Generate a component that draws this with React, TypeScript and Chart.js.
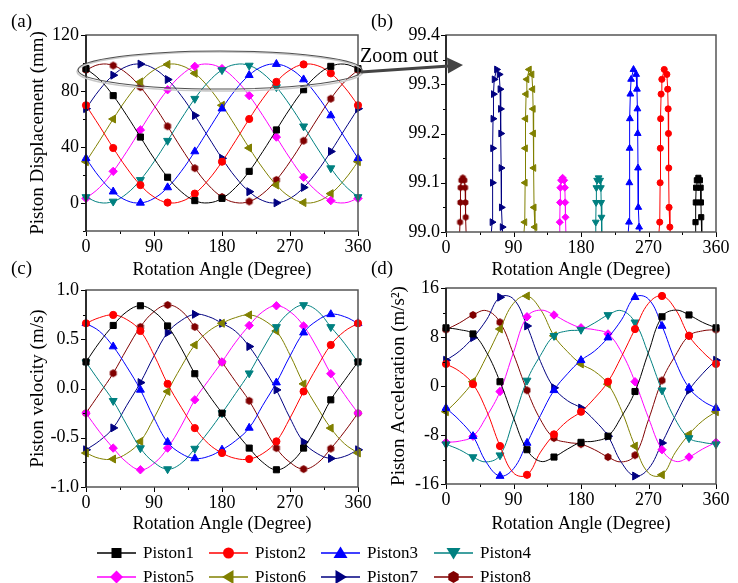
import React, { useEffect, useRef } from 'react';
import { Chart, registerables } from 'chart.js';

Chart.register(...registerables);

const FONT = '"Liberation Serif", "Times New Roman", Times, serif';

// ---------- data ----------
const ANGLES = [0, 18, 36, 54, 72, 90, 108, 126, 144, 162, 180, 198, 216, 234, 252, 270, 288, 306, 324, 342, 360];

const PISTON_NAMES = ['Piston1', 'Piston2', 'Piston3', 'Piston4', 'Piston5', 'Piston6', 'Piston7', 'Piston8'];

// (a) piston displacement (mm)
const DISP_P1 = [96.0, 88.2, 76.7, 62.5, 47.1, 31.9, 18.4, 8.1, 1.7, 0.1, 3.3, 11.1, 22.6, 36.8, 52.2, 67.4, 80.9, 91.3, 97.6, 99.2, 96.0];
const DISP_P2 = [69.8, 54.8, 39.3, 24.9, 12.8, 4.3, 0.3, 1.1, 6.7, 16.5, 29.5, 44.5, 60.0, 74.5, 86.5, 95.0, 99.0, 98.2, 92.6, 82.8, 69.8];
const DISP_P3 = [31.9, 18.4, 8.1, 1.7, 0.1, 3.3, 11.1, 22.6, 36.8, 52.2, 67.4, 80.9, 91.3, 97.6, 99.2, 96.0, 88.2, 76.7, 62.5, 47.1, 31.9];
const DISP_P4 = [4.3, 0.3, 1.1, 6.7, 16.5, 29.5, 44.5, 60.0, 74.5, 86.5, 95.0, 99.0, 98.2, 92.6, 82.8, 69.8, 54.8, 39.3, 24.9, 12.8, 4.3];
const DISP_P5 = [3.3, 11.1, 22.6, 36.8, 52.2, 67.4, 80.9, 91.3, 97.6, 99.2, 96.0, 88.2, 76.7, 62.5, 47.1, 31.9, 18.4, 8.1, 1.7, 0.1, 3.3];
const DISP_P6 = [29.5, 44.5, 60.0, 74.5, 86.5, 95.0, 99.0, 98.2, 92.6, 82.8, 69.8, 54.8, 39.3, 24.9, 12.8, 4.3, 0.3, 1.1, 6.7, 16.5, 29.5];
const DISP_P7 = [67.4, 80.9, 91.3, 97.6, 99.2, 96.0, 88.2, 76.7, 62.5, 47.1, 31.9, 18.4, 8.1, 1.7, 0.1, 3.3, 11.1, 22.6, 36.8, 52.2, 67.4];
const DISP_P8 = [95.0, 99.0, 98.2, 92.6, 82.8, 69.8, 54.8, 39.3, 24.9, 12.8, 4.3, 0.3, 1.1, 6.7, 16.5, 29.5, 44.5, 60.0, 74.5, 86.5, 95.0];

// (b) zoomed peaks of displacement: angle arrays per piston, shared peak profiles
const ZOOM_X_P1 = [332, 332.7, 333.1, 333.5, 334.5, 336.5, 338.5, 339.5, 339.9, 340.3, 341];
const ZOOM_X_P2 = [283.5, 285, 285.5, 285.8, 286.2, 286.8, 287.8, 291, 294.5, 295.6, 296.2, 296.6, 297, 297.4, 298.5, 299.5];
const ZOOM_X_P3 = [242.5, 244, 244.5, 244.8, 245.2, 245.8, 246.8, 250, 253.5, 254.6, 255.2, 255.6, 256, 256.4, 257.5, 258.5];
const ZOOM_X_P4 = [199, 199.7, 200.1, 200.5, 201.5, 203.5, 205.5, 206.5, 206.9, 207.3, 208];
const ZOOM_X_P5 = [151, 151.7, 152.1, 152.5, 153.5, 155.5, 157.5, 158.5, 158.9, 159.3, 160];
const ZOOM_X_P6 = [103.5, 105, 105.5, 105.8, 106.2, 106.8, 107.8, 111, 114.5, 115.6, 116.2, 116.6, 117, 117.4, 118.5, 119.5];
const ZOOM_X_P7 = [60, 61.5, 62, 62.3, 62.7, 63.3, 64.3, 67.5, 71, 72.1, 72.7, 73.1, 73.5, 73.9, 75, 76];
const ZOOM_X_P8 = [18, 18.7, 19.1, 19.5, 20.5, 22.5, 24.5, 25.5, 25.9, 26.3, 27];
const ZOOM_Y_HIGH = [98.99, 99.02, 99.10, 99.17, 99.23, 99.28, 99.31, 99.33, 99.32, 99.29, 99.25, 99.20, 99.13, 99.05, 99.01, 98.99];
const ZOOM_Y_LOW = [98.99, 99.02, 99.06, 99.09, 99.105, 99.11, 99.105, 99.09, 99.06, 99.03, 98.99];

// (c) piston velocity (m/s)
const VEL_P1 = [0.27, 0.47, 0.64, 0.78, 0.84, 0.78, 0.635, 0.41, 0.15, -0.06, -0.25, -0.44, -0.605, -0.75, -0.825, -0.76, -0.605, -0.38, -0.115, 0.08, 0.27];
const VEL_P2 = [0.662, 0.72, 0.747, 0.70, 0.584, 0.34, 0.047, -0.19, -0.402, -0.56, -0.655, -0.71, -0.716, -0.66, -0.537, -0.30, -0.03, 0.22, 0.442, 0.58, 0.662];
const VEL_P3 = [0.662, 0.58, 0.426, 0.22, -0.014, -0.30, -0.544, -0.66, -0.71, -0.69, -0.622, -0.53, -0.40, -0.17, 0.06, 0.33, 0.567, 0.69, 0.753, 0.73, 0.662];
const VEL_P4 = [0.267, 0.07, -0.125, -0.37, -0.605, -0.75, -0.818, -0.76, -0.61, -0.44, -0.25, -0.05, 0.155, 0.40, 0.625, 0.78, 0.848, 0.79, 0.625, 0.46, 0.267];
const VEL_P5 = [-0.25, -0.44, -0.605, -0.75, -0.825, -0.76, -0.605, -0.38, -0.115, 0.08, 0.27, 0.47, 0.64, 0.78, 0.84, 0.78, 0.635, 0.41, 0.15, -0.06, -0.25];
const VEL_P6 = [-0.655, -0.71, -0.716, -0.66, -0.537, -0.30, -0.03, 0.22, 0.442, 0.58, 0.662, 0.72, 0.747, 0.70, 0.584, 0.34, 0.047, -0.19, -0.402, -0.56, -0.655];
const VEL_P7 = [-0.622, -0.53, -0.40, -0.17, 0.06, 0.33, 0.567, 0.69, 0.753, 0.73, 0.662, 0.58, 0.426, 0.22, -0.014, -0.30, -0.544, -0.66, -0.71, -0.69, -0.622];
const VEL_P8 = [-0.25, -0.05, 0.155, 0.40, 0.625, 0.78, 0.848, 0.79, 0.625, 0.46, 0.267, 0.07, -0.125, -0.37, -0.605, -0.75, -0.818, -0.76, -0.61, -0.44, -0.25];

// (d) piston acceleration (m/s^2)
const ACC_P1 = [9.5, 9.2, 8.5, 5.5, 0.7, -5.2, -10.4, -12.3, -11.6, -10.3, -9.2, -9.0, -8.2, -5.0, -0.9, 5.5, 11.3, 12.4, 11.6, 10.4, 9.5];
const ACC_P2 = [3.6, 2.4, 0.3, -4.0, -9.8, -14.2, -14.5, -10.8, -7.9, -5.7, -4.2, -2.0, 0.7, 4.8, 9.3, 13.5, 14.7, 12.5, 8.2, 5.6, 3.6];
const ACC_P3 = [-3.6, -5.6, -8.2, -12.5, -14.7, -13.5, -9.3, -4.8, -0.7, 2.0, 4.2, 5.7, 7.9, 10.8, 14.5, 14.2, 9.8, 4.0, -0.3, -2.4, -3.6];
const ACC_P4 = [-9.5, -10.4, -11.6, -12.4, -11.3, -5.5, 0.9, 5.0, 8.2, 9.0, 9.2, 10.3, 11.6, 12.3, 10.4, 5.2, -0.7, -5.5, -8.5, -9.2, -9.5];
const ACC_P5 = [-9.2, -9.0, -8.2, -5.0, -0.9, 5.5, 11.3, 12.4, 11.6, 10.4, 9.5, 9.2, 8.5, 5.5, 0.7, -5.2, -10.4, -12.3, -11.6, -10.3, -9.2];
const ACC_P6 = [-4.2, -2.0, 0.7, 4.8, 9.3, 13.5, 14.7, 12.5, 8.2, 5.6, 3.6, 2.4, 0.3, -4.0, -9.8, -14.2, -14.5, -10.8, -7.9, -5.7, -4.2];
const ACC_P7 = [4.2, 5.7, 7.9, 10.8, 14.5, 14.2, 9.8, 4.0, -0.3, -2.4, -3.6, -5.6, -8.2, -12.5, -14.7, -13.5, -9.3, -4.8, -0.7, 2.0, 4.2];
const ACC_P8 = [9.2, 10.3, 11.6, 12.3, 10.4, 5.2, -0.7, -5.5, -8.5, -9.2, -9.5, -10.4, -11.6, -12.4, -11.3, -5.5, 0.9, 5.0, 8.2, 9.0, 9.2];

const DISP = [DISP_P1, DISP_P2, DISP_P3, DISP_P4, DISP_P5, DISP_P6, DISP_P7, DISP_P8];
const VEL = [VEL_P1, VEL_P2, VEL_P3, VEL_P4, VEL_P5, VEL_P6, VEL_P7, VEL_P8];
const ACC = [ACC_P1, ACC_P2, ACC_P3, ACC_P4, ACC_P5, ACC_P6, ACC_P7, ACC_P8];
const ZOOM_X = [ZOOM_X_P1, ZOOM_X_P2, ZOOM_X_P3, ZOOM_X_P4, ZOOM_X_P5, ZOOM_X_P6, ZOOM_X_P7, ZOOM_X_P8];
const ZOOM_Y = [ZOOM_Y_LOW, ZOOM_Y_HIGH, ZOOM_Y_HIGH, ZOOM_Y_LOW, ZOOM_Y_LOW, ZOOM_Y_HIGH, ZOOM_Y_HIGH, ZOOM_Y_LOW];

// ---------- styles ----------
const COLORS = ['#000000', '#FF0000', '#0000FF', '#008080', '#FF00FF', '#808000', '#000080', '#800000'];
const MARKERS: { style: string; rot: number; r: number }[] = [
  { style: 'rect', rot: 0, r: 4.3 },
  { style: 'circle', rot: 0, r: 3.6 },
  { style: 'triangle', rot: 0, r: 4.6 },
  { style: 'triangle', rot: 180, r: 4.6 },
  { style: 'rectRot', rot: 0, r: 4.2 },
  { style: 'triangle', rot: -90, r: 4.6 },
  { style: 'triangle', rot: 90, r: 4.6 },
  { style: 'hex', rot: 0, r: 4 },
];

function makeHex(color: string, r: number) {
  const s = Math.ceil(r * 2 + 2);
  const c = document.createElement('canvas');
  c.width = s;
  c.height = s;
  const g = c.getContext('2d')!;
  g.fillStyle = color;
  g.beginPath();
  for (let k = 0; k < 6; k++) {
    const ang = (Math.PI / 3) * k + Math.PI / 6;
    const px = s / 2 + r * Math.cos(ang);
    const py = s / 2 + r * Math.sin(ang);
    if (k === 0) g.moveTo(px, py);
    else g.lineTo(px, py);
  }
  g.closePath();
  g.fill();
  return c;
}

const isMaj = (v: number, m: number) => Math.abs(v / m - Math.round(v / m)) < 1e-6;

const decoPlugin = {
  id: 'deco',
  afterDatasetsDraw(chart: any, _args: any, opts: any) {
    const { ctx, chartArea: a } = chart;
    const xs = chart.scales.x;
    const ys = chart.scales.y;
    ctx.save();
    ctx.strokeStyle = '#000';
    ctx.lineWidth = 1;
    ctx.beginPath();
    xs.ticks.forEach((t: any) => {
      const px = Math.round(xs.getPixelForValue(t.value)) + 0.5;
      const len = isMaj(t.value, opts.xMajor) ? 5 : 3;
      ctx.moveTo(px, a.bottom);
      ctx.lineTo(px, a.bottom + len);
    });
    ys.ticks.forEach((t: any) => {
      const py = Math.round(ys.getPixelForValue(t.value)) + 0.5;
      const len = isMaj(t.value, opts.yMajor) ? 5 : 3;
      ctx.moveTo(a.left, py);
      ctx.lineTo(a.left - len, py);
    });
    ctx.stroke();
    ctx.strokeStyle = '#555';
    ctx.lineWidth = 1.5;
    ctx.strokeRect(a.left, a.top, a.right - a.left, a.bottom - a.top);
    ctx.strokeStyle = '#000';
    ctx.lineWidth = 1.3;
    ctx.beginPath();
    ctx.moveTo(a.left, a.top);
    ctx.lineTo(a.left, a.bottom);
    ctx.stroke();
    ctx.restore();
  },
};

function buildConfig(o: any) {
  return {
    type: 'line',
    data: { datasets: o.datasets },
    options: {
      animation: false,
      responsive: false,
      events: [],
      layout: { padding: { left: o.padL, top: o.padT, right: o.padR, bottom: o.padB } },
      plugins: {
        legend: { display: false },
        tooltip: { enabled: false },
        deco: { xMajor: 90, yMajor: o.yMajor },
      },
      elements: {
        line: { borderWidth: 1, tension: o.tension },
        point: { borderWidth: 1, hoverRadius: 0, hitRadius: 0 },
      },
      scales: {
        x: {
          type: 'linear',
          min: 0,
          max: 360,
          border: { display: false },
          grid: { display: false, drawTicks: false },
          ticks: {
            stepSize: 45,
            autoSkip: false,
            maxRotation: 0,
            padding: 5,
            color: '#000',
            font: { family: FONT, size: 18 },
            callback: (v: number) => (isMaj(v, 90) ? String(v) : ''),
          },
          title: {
            display: true,
            text: 'Rotation Angle (Degree)',
            color: '#000',
            font: { family: FONT, size: 18 },
            padding: 0,
          },
          afterFit: (s: any) => {
            s.height = o.xHeight;
          },
        },
        y: {
          type: 'linear',
          min: o.yMin,
          max: o.yMax,
          border: { display: false },
          grid: { display: false, drawTicks: false },
          ticks: {
            stepSize: o.yStep,
            autoSkip: false,
            padding: o.yPad,
            color: '#000',
            font: { family: FONT, size: 18 },
            callback: (v: number) => (isMaj(v, o.yMajor) ? Number(v).toFixed(o.yDec) : ''),
          },
          title: {
            display: !!o.yTitle,
            text: o.yTitle || '',
            color: '#000',
            font: { family: FONT, size: 19 },
            padding: 0,
          },
          afterFit: (s: any) => {
            s.width = o.yWidth;
          },
        },
      },
    },
    plugins: [decoPlugin],
  } as any;
}

function seriesDatasets(values: number[][], hex: HTMLCanvasElement) {
  return values.map((vals, k) => ({
    label: PISTON_NAMES[k],
    data: ANGLES.map((a, i) => ({ x: a, y: vals[i] })),
    borderColor: COLORS[k],
    backgroundColor: COLORS[k],
    pointBackgroundColor: COLORS[k],
    pointBorderColor: COLORS[k],
    pointStyle: MARKERS[k].style === 'hex' ? hex : MARKERS[k].style,
    pointRotation: MARKERS[k].rot,
    pointRadius: (ctx: any) => (ctx.dataIndex % 2 === 0 ? MARKERS[k].r : 0),
    clip: false,
  }));
}

function zoomDatasets(hex: HTMLCanvasElement) {
  return ZOOM_X.map((xs, k) => ({
    label: PISTON_NAMES[k],
    data: xs.map((x, i) => ({ x, y: ZOOM_Y[k][i] })),
    borderColor: COLORS[k],
    backgroundColor: COLORS[k],
    pointBackgroundColor: COLORS[k],
    pointBorderColor: COLORS[k],
    pointStyle: MARKERS[k].style === 'hex' ? hex : MARKERS[k].style,
    pointRotation: MARKERS[k].rot,
    pointRadius: MARKERS[k].r * 0.85,
    clip: 0,
  }));
}

function LegendMarker({ k }: { k: number }) {
  const c = COLORS[k];
  const cx = 19.5;
  const cy = 8;
  let shape: any = null;
  switch (k) {
    case 0:
      shape = <rect x={cx - 5} y={cy - 5} width={10} height={10} fill={c} />;
      break;
    case 1:
      shape = <circle cx={cx} cy={cy} r={5.5} fill={c} />;
      break;
    case 2:
      shape = <polygon points={`${cx},${cy - 6.5} ${cx + 7},${cy + 5} ${cx - 7},${cy + 5}`} fill={c} />;
      break;
    case 3:
      shape = <polygon points={`${cx},${cy + 6.5} ${cx + 7},${cy - 5} ${cx - 7},${cy - 5}`} fill={c} />;
      break;
    case 4:
      shape = <polygon points={`${cx},${cy - 6.5} ${cx + 6.5},${cy} ${cx},${cy + 6.5} ${cx - 6.5},${cy}`} fill={c} />;
      break;
    case 5:
      shape = <polygon points={`${cx - 6.5},${cy} ${cx + 5},${cy - 7} ${cx + 5},${cy + 7}`} fill={c} />;
      break;
    case 6:
      shape = <polygon points={`${cx + 6.5},${cy} ${cx - 5},${cy - 7} ${cx - 5},${cy + 7}`} fill={c} />;
      break;
    default: {
      const pts: string[] = [];
      for (let i = 0; i < 6; i++) {
        const ang = (Math.PI / 3) * i + Math.PI / 6;
        pts.push(`${cx + 6 * Math.cos(ang)},${cy + 6 * Math.sin(ang)}`);
      }
      shape = <polygon points={pts.join(' ')} fill={c} />;
    }
  }
  return (
    <svg width={40} height={16} style={{ position: 'absolute', left: 0, top: 0 }}>
      <line x1={0} y1={cy} x2={39} y2={cy} stroke={c} strokeWidth={1.3} />
      {shape}
    </svg>
  );
}

const LEGEND_COL_X = [97, 209, 321, 434];
const LEGEND_ROW_Y = [553, 577];

export default function App() {
  const refA = useRef<HTMLCanvasElement>(null);
  const refB = useRef<HTMLCanvasElement>(null);
  const refC = useRef<HTMLCanvasElement>(null);
  const refD = useRef<HTMLCanvasElement>(null);

  useEffect(() => {
    const hex = makeHex('#800000', 4);
    const hexSmall = makeHex('#800000', 3.4);
    const charts: Chart[] = [];
    charts.push(
      new Chart(
        refA.current!,
        buildConfig({
          datasets: seriesDatasets(DISP, hex),
          padL: 27, padT: 35, padR: 22, padB: 9, yWidth: 59, xHeight: 50,
          yMin: -20, yMax: 120, yStep: 20, yMajor: 40, yDec: 0, yPad: 7,
          yTitle: 'Piston Displacement (mm)', tension: 0.4,
        })
      )
    );
    charts.push(
      new Chart(
        refB.current!,
        buildConfig({
          datasets: zoomDatasets(hexSmall),
          padL: 0, padT: 35, padR: 22, padB: 9, yWidth: 76, xHeight: 49,
          yMin: 99.0, yMax: 99.4, yStep: 0.05, yMajor: 0.1, yDec: 1, yPad: 6,
          yTitle: '', tension: 0,
        })
      )
    );
    charts.push(
      new Chart(
        refC.current!,
        buildConfig({
          datasets: seriesDatasets(VEL, hex),
          padL: 27, padT: 20, padR: 22, padB: 5, yWidth: 59, xHeight: 48,
          yMin: -1, yMax: 1, yStep: 0.25, yMajor: 0.5, yDec: 1, yPad: 7,
          yTitle: 'Piston velocity (m/s)', tension: 0.4,
        })
      )
    );
    charts.push(
      new Chart(
        refD.current!,
        buildConfig({
          datasets: seriesDatasets(ACC, hex),
          padL: 18, padT: 18, padR: 22, padB: 5, yWidth: 58, xHeight: 51,
          yMin: -16, yMax: 16, yStep: 4, yMajor: 8, yDec: 0, yPad: 7,
          yTitle: 'Piston Acceleration (m/s²)', tension: 0.4,
        })
      )
    );
    return () => charts.forEach((c) => c.destroy());
  }, []);

  const labelStyle = (left: number, top: number, size: number): any => ({
    position: 'absolute',
    left,
    top,
    fontSize: size,
    lineHeight: 1,
    fontFamily: FONT,
    color: '#000',
    whiteSpace: 'nowrap',
  });

  return (
    <div style={{ position: 'absolute', left: 0, top: 0, width: 738, height: 583, background: '#fff', overflow: 'hidden', fontFamily: FONT }}>
      <canvas ref={refA} width={380} height={290} style={{ position: 'absolute', left: 0, top: 0, width: 380, height: 290 }} />
      <canvas ref={refB} width={368} height={290} style={{ position: 'absolute', left: 370, top: 0, width: 368, height: 290 }} />
      <canvas ref={refC} width={380} height={270} style={{ position: 'absolute', left: 0, top: 270, width: 380, height: 270 }} />
      <canvas ref={refD} width={368} height={270} style={{ position: 'absolute', left: 370, top: 270, width: 368, height: 270 }} />

      <svg width={738} height={583} style={{ position: 'absolute', left: 0, top: 0, pointerEvents: 'none' }}>
        <ellipse cx={220} cy={71.5} rx={143} ry={19.5} fill="none" stroke="#c8c8c8" strokeWidth={1.5} />
        <ellipse cx={220} cy={70} rx={142} ry={19} fill="none" stroke="#505050" strokeWidth={1.1} />
        <line x1={361} y1={72} x2={449} y2={66} stroke="#444" strokeWidth={3} />
        <polygon points="463,65 447,57.5 448,73.5" fill="#444" />
      </svg>

      <div style={labelStyle(11, 11, 19)}>(a)</div>
      <div style={labelStyle(371, 11, 19)}>(b)</div>
      <div style={labelStyle(11, 258, 19)}>(c)</div>
      <div style={labelStyle(371, 258, 19)}>(d)</div>
      <div style={labelStyle(360, 45, 20)}>Zoom out</div>

      {PISTON_NAMES.map((name, k) => {
        const x = LEGEND_COL_X[k % 4];
        const yc = LEGEND_ROW_Y[Math.floor(k / 4)];
        return (
          <div key={name} style={{ position: 'absolute', left: x, top: yc - 8, width: 120, height: 16 }}>
            <LegendMarker k={k} />
            <div style={{ position: 'absolute', left: 46, top: -1, fontSize: 17, lineHeight: 1, fontFamily: FONT, whiteSpace: 'nowrap' }}>{name}</div>
          </div>
        );
      })}
    </div>
  );
}
